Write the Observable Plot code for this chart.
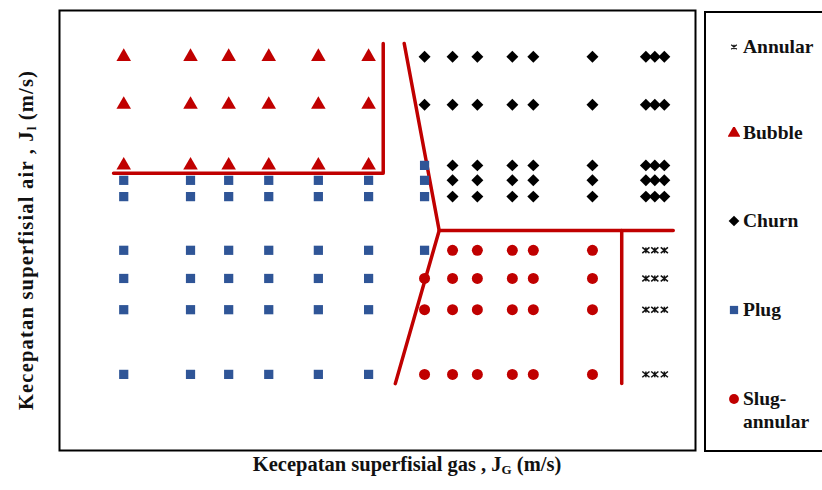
<!DOCTYPE html>
<html>
<head>
<meta charset="utf-8">
<script src="https://cdn.jsdelivr.net/npm/d3@7"></script>
<script src="https://cdn.jsdelivr.net/npm/@observablehq/plot@0.6"></script>
<style>
  body { margin: 0; background: white; overflow: hidden; }
  #wrap { position: relative; width: 822px; height: 490px; font-family: "Liberation Serif", "Times New Roman", serif; font-weight: bold; color: #111; }
  #chart { position: absolute; left: 0; top: 0; }
  .xlab { position: absolute; left: 0; width: 814px; top: 453px; text-align: center; font-size: 20.5px; }
  .ylab { position: absolute; left: 27px; top: 240px; transform: translate(-50%, -50%) rotate(-90deg); white-space: nowrap; font-size: 20.5px; letter-spacing: 1.2px; }
  sub { font-size: 13px; vertical-align: -3px; letter-spacing: 0; }
  #legend { position: absolute; left: 704px; top: 11px; width: 140px; height: 437px; border: 2px solid #000; }
  .item { position: absolute; left: 22px; font-size: 19.5px; line-height: 23px; display: flex; align-items: flex-start; }
  .item svg { margin-right: 3px; margin-top: 6px; }
</style>
</head>
<body>
<div id="wrap">
  <div id="chart"></div>
  <div class="ylab">Kecepatan superfisial air , J<sub>l</sub> (m/s)</div>
  <div class="xlab">Kecepatan superfisial gas , J<sub>G</sub> (m/s)</div>
  <div id="legend"></div>
</div>
<script>
// superficial gas velocity columns (relative units, no ticks in the original)
const jgCols = [10.1, 20.6, 26.6, 32.9, 40.7, 48.6, 57.4, 61.8, 65.7, 71.2, 74.5, 83.8, 92.2, 93.6, 95.1]
// superficial liquid velocity rows, top to bottom
const jlRows = [89.5, 78.6, 64.8, 61.4, 57.7, 45.5, 39.1, 32.0, 17.3]
// observed regime per row/column: B bubble, C churn, P plug, S slug-annular, A annular
const regimeGrid = [
  "BBBBBBCCCCCCCCC",
  "BBBBBBCCCCCCCCC",
  "BBBBBBPCCCCCCCC",
  "PPPPPPPCCCCCCCC",
  "PPPPPPPCCCCCCCC",
  "PPPPPPPSSSSSAAA",
  "PPPPPPSSSSSSAAA",
  "PPPPPPSSSSSSAAA",
  "PPPPPPSSSSSSAAA"
]
// transition boundaries
const bubblePlugLine = [[8.5, 63.0], [50.9, 63.0], [50.9, 92.5]]
const churnLine = [[54.2, 92.5], [59.7, 50.0], [96.5, 50.0]]
const slugLine = [[59.7, 50.0], [52.8, 15.2]]
const annularLine = [[88.4, 50.0], [88.4, 15.2]]

// excel-style "x" marker: a cross with a vertical bar through it
const zhe = {
  draw(ctx, size) {
    const r = Math.sqrt(size / Math.PI), h = r * 0.8
    ctx.moveTo(-r, -h); ctx.lineTo(r, h)
    ctx.moveTo(-r, h); ctx.lineTo(r, -h)
    ctx.moveTo(0, -h); ctx.lineTo(0, h)
  }
}

const regimes = [
  {code: "A", name: "Annular", symbol: zhe, fill: "none", stroke: "#111", r: 3.6},
  {code: "B", name: "Bubble", symbol: d3.symbolTriangle, fill: "#c00000", stroke: "none", r: 5.4},
  {code: "C", name: "Churn", symbol: d3.symbolDiamond2, fill: "#000", stroke: "none", r: 5.4},
  {code: "P", name: "Plug", symbol: d3.symbolSquare, fill: "#2f5597", stroke: "none", r: 5.2},
  {code: "S", name: "Slug-\nannular", symbol: d3.symbolCircle, fill: "#c00000", stroke: "none", r: 5.5}
]

const points = []
regimeGrid.forEach((row, i) => {
  row.split("").forEach((c, j) => points.push({jg: jgCols[j], jl: jlRows[i], code: c}))
})

const lineData = (pts, id) => pts.map(([x, y]) => ({x, y, id}))
const lines = [
  ...lineData(bubblePlugLine, 1), ...lineData(churnLine, 2),
  ...lineData(slugLine, 3), ...lineData(annularLine, 4)
]

const chart = Plot.plot({
  width: 822,
  height: 490,
  marginLeft: 59,
  marginRight: 127,
  marginTop: 10,
  marginBottom: 40,
  x: {domain: [0, 100], axis: null},
  y: {domain: [0, 100], axis: null},
  marks: [
    Plot.line(lines, {x: "x", y: "y", z: "id", stroke: "#c00000", strokeWidth: 3.5}),
    ...regimes.map(g => Plot.dot(points.filter(d => d.code == g.code), {
      x: "jg", y: "jl", symbol: g.symbol, fill: g.fill, stroke: g.stroke, r: g.r, strokeWidth: 1.5
    })),
    Plot.frame({stroke: "#000", strokeWidth: 2})
  ],
  style: {background: "white"}
})
d3.select("#chart").append(() => chart)

// legend
const legendY = [22, 108, 196, 285, 374]
const legend = d3.select("#legend")
regimes.forEach((g, i) => {
  const item = legend.append("div").attr("class", "item").style("top", legendY[i] + "px")
  const s = item.append("svg").attr("width", 12).attr("height", 12)
  s.append("path")
    .attr("transform", "translate(6,6)")
    .attr("d", d3.symbol(g.symbol, Math.PI * g.r * g.r * (g.code == "A" ? 0.6 : 0.8))())
    .attr("fill", g.fill).attr("stroke", g.stroke).attr("stroke-width", 1.2)
  item.append("div").html(g.name.replace("\n", "<br>"))
})
</script>
</body>
</html>
